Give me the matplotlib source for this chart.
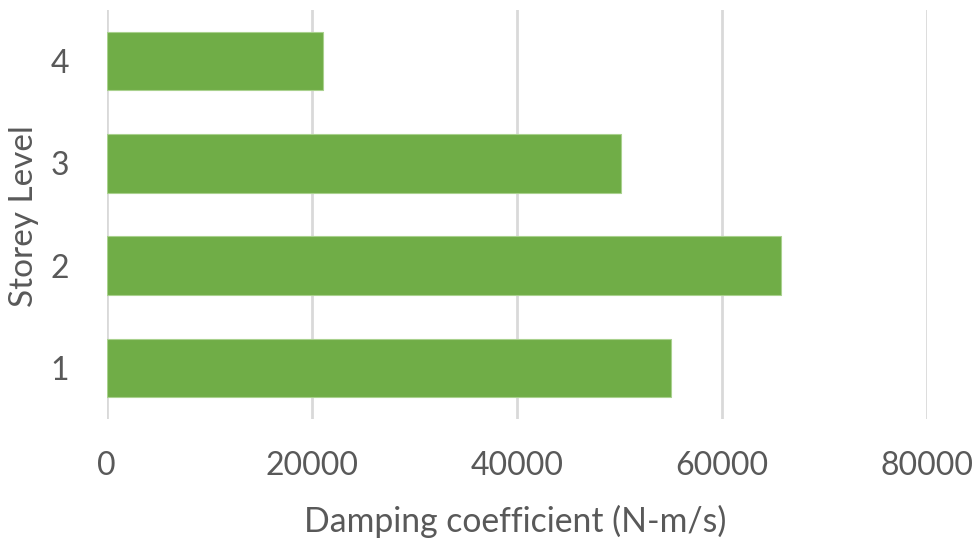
import matplotlib
matplotlib.use("Agg")
import matplotlib.pyplot as plt

storeys = ["1", "2", "3", "4"]
damping = [55000, 65800, 50200, 21100]
x_ticks = [0, 20000, 40000, 60000, 80000]

plt.rcParams['font.family'] = ['Lato', 'DejaVu Sans']
text_color = "#595959"
grid_color = "#D9D9D9"
bar_color = "#70AD47"

fig = plt.figure(figsize=(9.74, 5.39), dpi=100)
ax_left, ax_right, ax_top, ax_bottom = 106.5, 927.0, 10.0, 419.0
ax = fig.add_axes([ax_left / 974, 1 - ax_bottom / 539,
                   (ax_right - ax_left) / 974, (ax_bottom - ax_top) / 539])

ypos = list(range(1, len(storeys) + 1))
ax.barh(ypos, damping, height=0.571, color=bar_color, edgecolor="#A9D18E",
        linewidth=0.8, zorder=3)

ax.set_xlim(0, 80000)
ax.set_ylim(0.5, 4.5)
ax.set_xticks(x_ticks)
ax.set_xticklabels([str(v) for v in x_ticks])
ax.set_yticks(ypos)
ax.set_yticklabels(storeys)

ax.grid(axis="x", color=grid_color, linewidth=2, zorder=0)
ax.grid(axis="y", visible=False)
for s in ax.spines.values():
    s.set_visible(False)

ax.tick_params(axis="both", length=0, labelsize=23, colors=text_color)
ax.tick_params(axis="x", pad=23)
ax.tick_params(axis="y", pad=27)

ax.set_xlabel("Damping coefficient (N-m/s)", fontsize=24.3, color=text_color, va="center")
ax.set_ylabel("Storey Level", fontsize=24, color=text_color, va="center")
w = ax_right - ax_left
h = ax_bottom - ax_top
ax.xaxis.set_label_coords((515 - ax_left) / w, -(521 - ax_bottom) / h)
ax.yaxis.set_label_coords((24 - ax_left) / w, (ax_bottom - 216) / h)

fig.savefig("out.png", dpi=100, facecolor="white")
